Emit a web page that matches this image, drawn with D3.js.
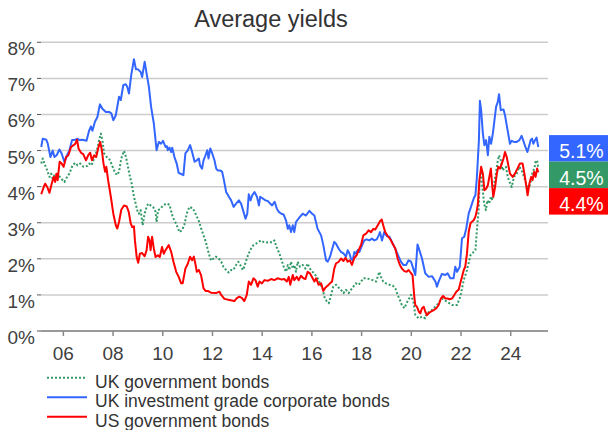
<!DOCTYPE html>
<html>
<head>
<meta charset="utf-8">
<script src="https://cdn.jsdelivr.net/npm/d3@7"></script>
<style>
	body { margin: 0; background: #fff; }
	text { font-family: 'Liberation Sans', Arial, sans-serif; }
</style>
</head>
<body>
<div id="chart"></div>
<script>
// DATA =================================================================
// [decimal year, yield %]
const ukGov = [
	[2005.11,4.64],[2005.17,4.78],[2005.24,4.64],[2005.35,4.45],[2005.44,4.27],[2005.51,4.36],[2005.57,4.22],[2005.64,4.32],[2005.77,4.36],[2005.91,4.22],
	[2006.04,4.13],[2006.15,4.27],[2006.24,4.36],[2006.37,4.59],[2006.48,4.66],[2006.57,4.59],[2006.68,4.64],[2006.81,4.55],[2006.95,4.57],[2007.04,4.64],
	[2007.13,4.59],[2007.24,4.78],[2007.35,5.01],[2007.44,5.29],[2007.51,5.47],[2007.57,5.29],[2007.64,4.92],[2007.75,4.82],[2007.84,4.78],[2007.93,4.64],
	[2008.04,4.45],[2008.15,4.32],[2008.24,4.41],[2008.33,4.78],[2008.44,4.99],[2008.52,4.82],[2008.6,4.55],[2008.68,4.27],[2008.75,4.08],[2008.84,3.72],
	[2008.91,3.53],[2008.97,3.35],[2009.04,3.25],[2009.11,3.35],[2009.19,2.93],[2009.27,3.25],[2009.35,3.44],[2009.41,3.53],[2009.51,3.48],[2009.61,3.44],
	[2009.71,3.3],[2009.75,3.02],[2009.81,3.35],[2009.91,3.39],[2010.01,3.48],[2010.15,3.53],[2010.27,3.5],[2010.4,3.16],[2010.54,2.97],[2010.67,2.74],
	[2010.78,2.8],[2010.87,2.95],[2010.97,3.26],[2011.07,3.44],[2011.21,3.4],[2011.34,3.22],[2011.45,3.05],[2011.54,2.85],[2011.64,2.65],[2011.74,2.45],
	[2011.85,2.15],[2011.94,1.95],[2012.04,2.01],[2012.14,2.06],[2012.25,2.01],[2012.35,1.92],[2012.44,1.78],[2012.55,1.69],[2012.65,1.62],[2012.75,1.69],
	[2012.84,1.69],[2012.95,1.83],[2013.04,1.92],[2013.11,1.84],[2013.22,1.69],[2013.28,1.78],[2013.38,2.01],[2013.46,2.15],[2013.55,2.28],[2013.65,2.38],
	[2013.75,2.42],[2013.86,2.47],[2013.95,2.51],[2014.05,2.47],[2014.16,2.45],[2014.29,2.47],[2014.4,2.45],[2014.49,2.51],[2014.58,2.33],[2014.69,2.15],
	[2014.8,1.92],[2014.89,1.73],[2014.96,1.64],[2015.03,1.83],[2015.09,1.69],[2015.16,1.92],[2015.23,1.73],[2015.29,1.83],[2015.36,1.64],[2015.43,1.92],
	[2015.52,1.78],[2015.63,1.83],[2015.74,1.73],[2015.83,1.87],[2015.92,1.73],[2016.03,1.64],[2016.14,1.55],[2016.23,1.46],[2016.33,1.32],[2016.43,1.18],
	[2016.5,0.95],[2016.6,0.82],[2016.68,0.77],[2016.77,1.0],[2016.86,1.23],[2016.97,1.28],[2017.08,1.2],[2017.17,1.14],[2017.27,1.05],[2017.37,1.14],
	[2017.48,1.05],[2017.57,1.14],[2017.67,1.23],[2017.77,1.32],[2017.88,1.28],[2017.98,1.37],[2018.07,1.46],[2018.18,1.46],[2018.31,1.44],[2018.45,1.41],
	[2018.58,1.37],[2018.65,1.5],[2018.71,1.64],[2018.78,1.5],[2018.87,1.37],[2018.98,1.32],[2019.12,1.28],[2019.25,1.26],[2019.36,1.18],[2019.45,1.0],
	[2019.54,0.86],[2019.62,0.72],[2019.72,0.63],[2019.81,0.77],[2019.92,0.91],[2019.99,1.0],[2020.08,0.82],[2020.16,0.45],[2020.22,0.4],[2020.3,0.35],
	[2020.43,0.4],[2020.56,0.35],[2020.63,0.49],[2020.83,0.58],[2021.03,0.72],[2021.23,0.9],[2021.44,0.81],[2021.64,0.72],[2021.84,0.72],[2021.97,0.95],
	[2022.11,1.41],[2022.24,1.69],[2022.38,2.1],[2022.58,2.24],[2022.64,2.8],[2022.71,3.35],[2022.75,4.18],[2022.8,4.36],[2022.86,3.99],[2022.93,3.53],
	[2023.0,3.35],[2023.06,3.62],[2023.13,3.53],[2023.2,3.72],[2023.26,3.62],[2023.33,4.08],[2023.4,4.36],[2023.46,4.64],[2023.53,4.87],[2023.6,4.73],
	[2023.67,4.45],[2023.73,4.5],[2023.81,4.55],[2023.88,4.27],[2023.95,4.13],[2024.04,3.99],[2024.13,4.27],[2024.24,4.36],[2024.35,4.55],[2024.44,4.45],
	[2024.54,4.27],[2024.62,4.08],[2024.68,3.99],[2024.75,3.99],[2024.82,4.18],[2024.88,4.41],[2024.95,4.5],[2025.0,4.69],[2025.06,4.73],[2025.11,4.5],
];

const ukCorp = [
	[2005.11,5.1],[2005.17,5.33],[2005.31,5.3],[2005.37,5.2],[2005.48,4.82],[2005.57,5.0],[2005.64,4.82],[2005.73,4.87],[2005.84,5.03],[2005.93,4.92],
	[2006.04,4.69],[2006.15,4.87],[2006.24,5.0],[2006.35,5.29],[2006.44,5.29],[2006.57,5.33],[2006.64,5.29],[2006.77,5.3],[2006.93,5.27],[2007.04,5.56],
	[2007.11,5.67],[2007.17,5.55],[2007.27,5.8],[2007.37,5.93],[2007.47,6.28],[2007.57,6.16],[2007.71,6.07],[2007.84,6.07],[2007.93,6.03],[2008.01,5.84],
	[2008.11,5.98],[2008.24,6.49],[2008.31,6.4],[2008.41,6.81],[2008.51,6.84],[2008.57,6.77],[2008.64,6.58],[2008.73,7.09],[2008.84,7.53],[2008.92,7.25],
	[2009.0,7.25],[2009.11,7.18],[2009.17,7.04],[2009.27,7.46],[2009.35,7.13],[2009.44,6.77],[2009.53,6.21],[2009.64,5.75],[2009.75,5.01],[2009.84,5.24],
	[2009.93,5.19],[2010.01,5.27],[2010.11,5.1],[2010.17,5.12],[2010.2,5.01],[2010.27,5.08],[2010.34,4.96],[2010.38,5.08],[2010.47,4.82],[2010.56,4.64],
	[2010.64,4.38],[2010.74,4.35],[2010.83,4.32],[2010.91,4.92],[2011.01,5.01],[2011.1,5.15],[2011.18,4.96],[2011.28,4.69],[2011.37,4.73],[2011.45,4.78],
	[2011.5,4.59],[2011.58,4.5],[2011.64,4.73],[2011.72,4.87],[2011.79,5.01],[2011.84,4.78],[2011.91,5.06],[2011.99,4.92],[2012.08,4.73],[2012.15,4.5],
	[2012.21,4.45],[2012.31,4.45],[2012.39,4.41],[2012.46,4.18],[2012.55,3.85],[2012.66,3.72],[2012.75,3.62],[2012.85,3.44],[2012.95,3.53],[2013.06,3.62],
	[2013.15,3.53],[2013.25,3.3],[2013.33,3.11],[2013.4,3.25],[2013.46,3.79],[2013.53,3.62],[2013.6,3.76],[2013.69,3.85],[2013.79,3.72],[2013.87,3.48],
	[2013.92,3.72],[2014.03,3.67],[2014.13,3.62],[2014.23,3.6],[2014.32,3.53],[2014.4,3.48],[2014.5,3.58],[2014.59,3.39],[2014.67,3.3],[2014.77,3.25],
	[2014.86,3.23],[2014.96,3.06],[2015.03,2.83],[2015.09,2.93],[2015.16,2.74],[2015.23,2.93],[2015.29,2.74],[2015.36,3.02],[2015.5,3.15],[2015.63,3.25],
	[2015.76,3.2],[2015.9,3.33],[2016.01,3.25],[2016.1,3.2],[2016.23,2.83],[2016.37,2.65],[2016.46,2.38],[2016.57,1.96],[2016.64,1.92],[2016.73,2.06],
	[2016.84,2.33],[2016.9,2.47],[2016.97,2.42],[2017.08,2.28],[2017.17,2.19],[2017.27,2.15],[2017.37,2.06],[2017.44,2.24],[2017.51,2.15],[2017.57,2.01],
	[2017.64,1.96],[2017.71,2.19],[2017.77,2.15],[2017.84,2.24],[2017.91,2.19],[2018.02,2.38],[2018.11,2.51],[2018.2,2.54],[2018.31,2.51],[2018.42,2.56],
	[2018.51,2.51],[2018.61,2.54],[2018.69,2.65],[2018.74,2.74],[2018.82,2.51],[2018.91,2.74],[2019.01,2.63],[2019.12,2.61],[2019.22,2.47],[2019.32,2.33],
	[2019.41,2.19],[2019.49,2.06],[2019.58,1.92],[2019.68,1.83],[2019.79,1.83],[2019.89,1.96],[2019.99,1.92],[2020.08,1.73],[2020.16,1.55],[2020.25,2.4],
	[2020.43,2.01],[2020.56,1.6],[2020.7,1.5],[2020.83,1.52],[2020.97,1.37],[2021.03,1.23],[2021.1,1.37],[2021.23,1.58],[2021.37,1.55],[2021.46,1.6],
	[2021.57,1.46],[2021.7,1.46],[2021.77,1.78],[2021.84,1.64],[2021.95,1.78],[2022.04,2.57],[2022.13,2.61],[2022.21,2.84],[2022.31,3.26],[2022.38,3.4],
	[2022.51,3.67],[2022.58,3.77],[2022.64,4.27],[2022.72,5.29],[2022.76,6.38],[2022.81,6.12],[2022.88,5.47],[2022.94,5.15],[2023.01,5.29],[2023.08,4.87],
	[2023.14,5.38],[2023.21,5.19],[2023.28,5.47],[2023.34,5.8],[2023.41,6.21],[2023.48,6.35],[2023.53,6.56],[2023.6,6.12],[2023.71,6.14],[2023.77,5.98],
	[2023.84,5.7],[2023.91,5.42],[2023.97,5.19],[2024.04,5.27],[2024.13,5.24],[2024.24,5.24],[2024.35,5.29],[2024.44,5.41],[2024.51,5.27],[2024.58,5.12],
	[2024.67,4.96],[2024.75,5.15],[2024.8,5.29],[2024.86,5.33],[2024.91,5.19],[2024.98,5.29],[2025.04,5.36],[2025.11,5.1],
];

const usGov = [
	[2005.11,3.79],[2005.21,3.99],[2005.27,4.08],[2005.35,3.99],[2005.44,3.83],[2005.53,4.08],[2005.61,4.27],[2005.67,4.13],[2005.72,4.36],[2005.77,4.18],
	[2005.85,4.69],[2005.93,4.64],[2006.01,4.55],[2006.11,4.82],[2006.2,4.87],[2006.31,5.1],[2006.41,5.15],[2006.48,5.19],[2006.55,5.3],[2006.61,5.06],
	[2006.71,4.94],[2006.8,4.9],[2006.91,4.73],[2007.0,4.87],[2007.08,4.94],[2007.15,4.73],[2007.24,4.87],[2007.32,4.82],[2007.4,5.06],[2007.48,5.24],
	[2007.55,5.01],[2007.61,4.66],[2007.68,4.41],[2007.73,4.55],[2007.8,4.18],[2007.91,3.72],[2008.01,3.25],[2008.11,2.93],[2008.17,2.84],[2008.24,3.02],
	[2008.33,3.36],[2008.44,3.48],[2008.55,3.45],[2008.63,3.3],[2008.71,2.98],[2008.77,2.88],[2008.84,2.9],[2008.88,2.51],[2008.95,2.05],[2009.01,1.89],
	[2009.08,2.14],[2009.17,2.16],[2009.27,2.07],[2009.35,2.24],[2009.41,2.61],[2009.47,2.51],[2009.51,2.24],[2009.57,2.61],[2009.64,2.28],[2009.71,2.05],
	[2009.8,2.1],[2009.88,2.05],[2009.97,2.33],[2010.04,2.14],[2010.11,2.24],[2010.24,2.38],[2010.34,2.19],[2010.43,1.92],[2010.54,1.64],[2010.64,1.5],
	[2010.74,1.32],[2010.8,1.32],[2010.91,1.73],[2011.01,1.87],[2011.1,2.06],[2011.18,1.96],[2011.25,2.06],[2011.31,1.87],[2011.37,1.64],[2011.45,1.69],
	[2011.54,1.55],[2011.64,1.18],[2011.72,1.11],[2011.81,1.11],[2011.94,1.06],[2012.14,1.05],[2012.28,1.09],[2012.35,1.0],[2012.48,0.89],[2012.68,0.86],
	[2012.88,0.83],[2012.98,0.91],[2013.08,0.95],[2013.19,0.91],[2013.28,0.83],[2013.38,1.0],[2013.46,1.37],[2013.55,1.28],[2013.65,1.46],[2013.73,1.41],
	[2013.82,1.23],[2013.89,1.37],[2013.99,1.32],[2014.09,1.41],[2014.22,1.39],[2014.36,1.44],[2014.49,1.41],[2014.62,1.46],[2014.76,1.43],[2014.89,1.44],
	[2014.99,1.37],[2015.07,1.5],[2015.13,1.28],[2015.23,1.55],[2015.29,1.41],[2015.39,1.5],[2015.47,1.41],[2015.56,1.53],[2015.66,1.46],[2015.74,1.44],
	[2015.83,1.64],[2015.92,1.6],[2016.03,1.46],[2016.1,1.37],[2016.17,1.46],[2016.27,1.28],[2016.37,1.32],[2016.46,1.11],[2016.54,1.2],[2016.64,1.26],
	[2016.73,1.32],[2016.81,1.37],[2016.9,1.73],[2016.97,1.87],[2017.08,1.92],[2017.17,2.01],[2017.27,1.94],[2017.35,2.03],[2017.44,1.92],[2017.53,1.96],
	[2017.61,1.83],[2017.71,2.03],[2017.8,2.1],[2017.88,2.24],[2017.98,2.39],[2018.07,2.65],[2018.18,2.7],[2018.28,2.79],[2018.38,2.74],[2018.47,2.83],
	[2018.55,2.81],[2018.65,2.93],[2018.74,3.04],[2018.81,3.09],[2018.87,2.93],[2018.95,2.74],[2019.05,2.63],[2019.14,2.56],[2019.25,2.42],[2019.36,2.28],
	[2019.45,2.01],[2019.54,1.83],[2019.62,1.73],[2019.72,1.66],[2019.81,1.64],[2019.89,1.69],[2019.99,1.6],[2020.05,1.55],[2020.12,0.95],[2020.16,0.72],
	[2020.23,0.67],[2020.3,0.54],[2020.36,0.49],[2020.43,0.63],[2020.5,0.67],[2020.56,0.54],[2020.63,0.44],[2020.7,0.49],[2020.79,0.54],[2020.9,0.58],
	[2021.01,0.63],[2021.1,0.72],[2021.19,0.9],[2021.28,0.97],[2021.37,0.9],[2021.46,0.9],[2021.54,0.88],[2021.64,0.9],[2021.73,1.0],[2021.81,1.09],
	[2021.91,1.15],[2021.97,1.32],[2022.04,1.5],[2022.11,1.69],[2022.17,1.78],[2022.24,2.15],[2022.31,2.75],[2022.38,2.98],[2022.44,3.03],[2022.51,3.07],
	[2022.58,3.17],[2022.64,3.35],[2022.68,3.53],[2022.74,4.18],[2022.81,4.55],[2022.88,4.36],[2022.94,3.9],[2023.01,3.94],[2023.08,4.04],[2023.14,4.27],
	[2023.2,4.5],[2023.26,3.99],[2023.3,3.72],[2023.37,3.99],[2023.44,4.36],[2023.5,4.55],[2023.57,4.5],[2023.64,4.64],[2023.71,4.78],[2023.77,4.96],
	[2023.84,4.82],[2023.91,4.57],[2023.97,4.36],[2024.08,4.27],[2024.17,4.36],[2024.27,4.5],[2024.37,4.64],[2024.48,4.64],[2024.55,4.36],[2024.62,4.04],
	[2024.68,3.76],[2024.75,4.08],[2024.82,4.27],[2024.88,4.18],[2024.94,4.41],[2025.0,4.27],[2025.06,4.5],[2025.11,4.4],
];

const seriesNames = ['UK government bonds', 'UK investment grade corporate bonds', 'US government bonds'];
const yTicks = [0, 1, 2, 3, 4, 5, 6, 7, 8];
const xTicks = [2006, 2008, 2010, 2012, 2014, 2016, 2018, 2020, 2022, 2024];
const xTickLabels = ['06', '08', '10', '12', '14', '16', '18', '20', '22', '24'];
// =================================================================

const width = 608;
const height = 430;

const svg = d3.select('#chart').append('svg').attr('width', width).attr('height', height);

const x = d3.scaleLinear().domain([2005.1, 2025.5]).range([41, 548]);
const y = d3.scaleLinear().domain([0, 8]).range([331, 42.3]);

const series = [
	{ name: seriesNames[0], data: ukGov, color: '#339966', dash: '2,2' },
	{ name: seriesNames[1], data: ukCorp, color: '#3366ff', dash: null },
	{ name: seriesNames[2], data: usGov, color: '#ff0000', dash: null },
];

// Title
svg.append('text')
	.attr('x', 271)
	.attr('y', 27)
	.attr('text-anchor', 'middle')
	.style('font-size', '23.5px')
	.style('fill', '#333')
	.text('Average yields');

// AXES =================================================================
// horizontal gridlines, the 0% one doubles as the x axis
svg.append('g')
	.selectAll('line')
	.data(yTicks)
	.join('line')
	.attr('x1', x.range()[0])
	.attr('x2', x.range()[1])
	.attr('y1', (d) => y(d))
	.attr('y2', (d) => y(d))
	.attr('stroke', (d) => (d === 0 ? '#999' : '#cccccc'))
	.attr('stroke-width', (d) => (d === 0 ? 2 : 1.5));

// y ticks + labels (labels sit just under their gridline)
const yAxis = svg.append('g');
yAxis.selectAll('line')
	.data(yTicks)
	.join('line')
	.attr('x1', 37)
	.attr('x2', 41)
	.attr('y1', (d) => y(d))
	.attr('y2', (d) => y(d))
	.attr('stroke', '#555')
	.attr('stroke-width', 1);
yAxis.selectAll('text')
	.data(yTicks)
	.join('text')
	.attr('x', 35)
	.attr('y', (d) => y(d) + 13)
	.attr('text-anchor', 'end')
	.style('font-size', '19px')
	.style('fill', '#404040')
	.text((d) => d + '%');

// x ticks + labels
const xAxis = svg.append('g');
xAxis.selectAll('line')
	.data(xTicks)
	.join('line')
	.attr('x1', (d) => x(d))
	.attr('x2', (d) => x(d))
	.attr('y1', y(0))
	.attr('y2', y(0) + 5)
	.attr('stroke', '#888')
	.attr('stroke-width', 1.5);
xAxis.selectAll('text')
	.data(xTicks)
	.join('text')
	.attr('x', (d) => x(d))
	.attr('y', 360)
	.attr('text-anchor', 'middle')
	.style('font-size', '19px')
	.style('fill', '#404040')
	.text((d, i) => xTickLabels[i]);
//================================================================

// LINES =================================================================
const line = d3
	.line()
	.x((d) => x(d[0]))
	.y((d) => y(d[1]));

svg.append('g')
	.selectAll('path')
	.data(series)
	.join('path')
	.attr('d', (d) => line(d.data))
	.attr('fill', 'none')
	.attr('stroke', (d) => d.color)
	.attr('stroke-width', 2)
	.attr('stroke-dasharray', (d) => d.dash)
	.attr('stroke-linejoin', 'round');
//================================================================

// END LABELS =================================================================
// boxes stacked by last value so they don't overlap
const boxH = 26.5;
const endLabels = series
	.map((s) => ({ color: s.color, value: s.data[s.data.length - 1][1] }))
	.sort((a, b) => b.value - a.value);
let prevCenter = -Infinity;
endLabels.forEach((d) => {
	d.cy = Math.max(y(d.value) + 1.4, prevCenter + boxH);
	prevCenter = d.cy;
});

const endG = svg.append('g').selectAll('g').data(endLabels).join('g');
endG.append('rect')
	.attr('x', 549)
	.attr('y', (d) => d.cy - boxH / 2)
	.attr('width', 66)
	.attr('height', boxH)
	.attr('fill', (d) => d.color);
endG.append('text')
	.attr('x', 581.5)
	.attr('y', (d) => d.cy + boxH / 2 - 3.3)
	.attr('text-anchor', 'middle')
	.style('font-size', '19.5px')
	.style('fill', '#fff')
	.text((d) => d.value.toFixed(1) + '%');
//================================================================

// LEGEND =================================================================
const legend = svg.append('g').selectAll('g').data(series).join('g')
	.attr('transform', (d, i) => `translate(0, ${377.7 + i * 19.5})`);
legend.append('line')
	.attr('x1', 47)
	.attr('x2', 87)
	.attr('stroke', (d) => d.color)
	.attr('stroke-width', 2)
	.attr('stroke-dasharray', (d) => d.dash);
legend.append('text')
	.attr('x', 95)
	.attr('y', 10)
	.style('font-size', '17.5px')
	.style('fill', '#333')
	.text((d) => d.name);
//================================================================
</script>
</body>
</html>
